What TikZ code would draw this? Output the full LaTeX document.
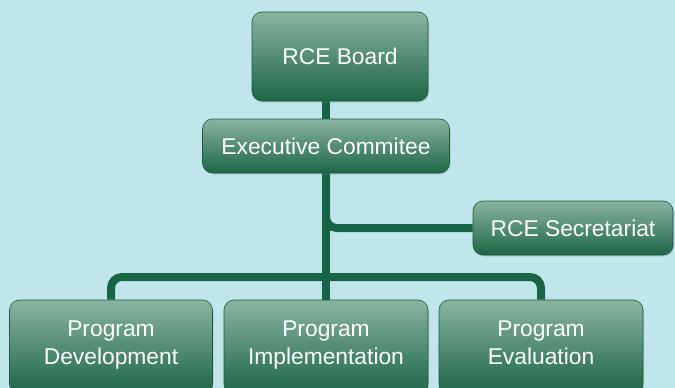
\documentclass[tikz,border=0pt]{standalone}
\usepackage{fontspec}
\setmainfont{Liberation Sans}
\usetikzlibrary{shadows,backgrounds}
\definecolor{bgc}{HTML}{C0E5EA}
\definecolor{linec}{HTML}{176446}
\definecolor{boxtop}{HTML}{8AB4A0}
\definecolor{boxbot}{HTML}{1C6646}
\definecolor{boxedge}{HTML}{1A5C40}
\pgfdeclarelayer{back}
\pgfsetlayers{back,background,main}
\begin{document}
\begin{tikzpicture}[x=1pt,y=-1pt,
  box/.style={draw=boxedge, line width=0.6pt, rounded corners=10pt,
    top color=boxtop, bottom color=boxbot, text=white,
    font=\fontsize{22.8}{28}\selectfont, align=center, inner sep=0pt,
    drop shadow={opacity=0.3, shadow xshift=1pt, shadow yshift=-1.5pt}},
  link/.style={draw=linec, line width=8pt, rounded corners=11pt}]
\begin{pgfonlayer}{back}
\fill[bgc] (0,0) rectangle (675,388);
\end{pgfonlayer}
\useasboundingbox (0,0) rectangle (675,388);
\node[box, minimum width=176pt, minimum height=89pt] (board) at (340,56.5) {RCE Board};
\node[box, minimum width=247pt, minimum height=54pt] (exec) at (326,146) {Executive Commitee};
\node[box, minimum width=200pt, minimum height=54pt] (sec) at (573,228) {RCE Secretariat};
\node[box, minimum width=203pt, minimum height=94pt] (dev) at (111,347) {Program\\Development\strut};
\node[box, minimum width=204pt, minimum height=94pt] (impl) at (326,347) {Program\\Implementation\strut};
\node[box, minimum width=204pt, minimum height=94pt] (eval) at (541,347) {Program\\Evaluation\strut};
\coordinate (bus) at (326,277);
\begin{pgfonlayer}{background}
\draw[link] (exec) -- (exec |- board);
\draw[link] (exec) -- (impl);
\draw[link] (exec) |- (sec);
\draw[link] (dev) |- (bus) -| (eval);
\end{pgfonlayer}
\end{tikzpicture}
\end{document}
